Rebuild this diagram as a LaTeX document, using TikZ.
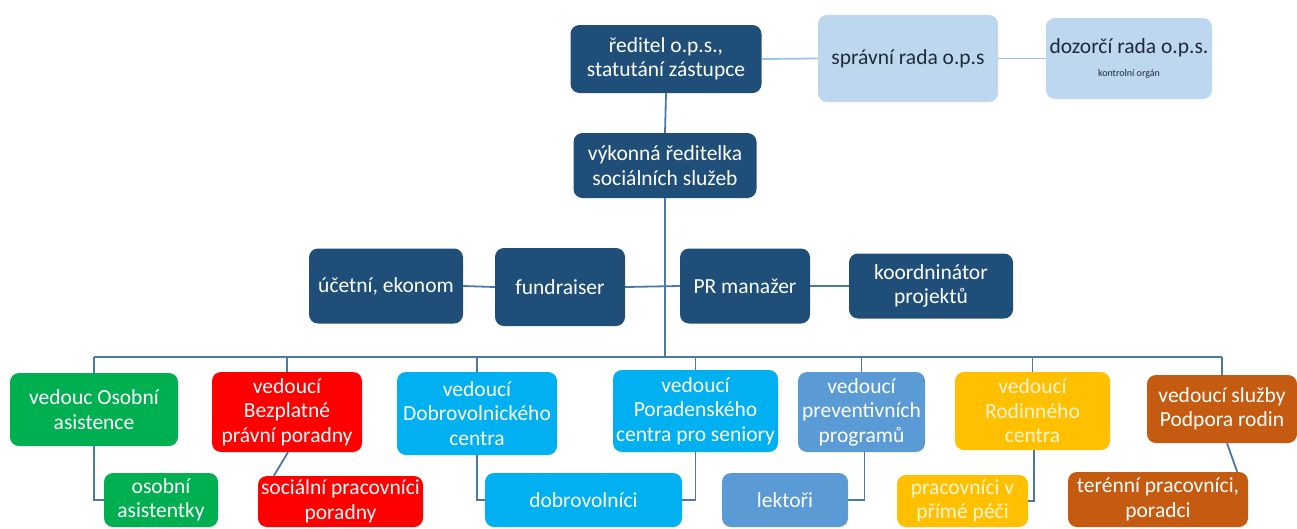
\documentclass[tikz,border=0pt]{standalone}
\usepackage{fontspec}
\setmainfont{Carlito}
\definecolor{navy}{HTML}{1F4E79}
\definecolor{pale}{HTML}{BDD7EE}
\definecolor{paletext}{HTML}{1F2A38}
\definecolor{ogreen}{HTML}{00B050}
\definecolor{ored}{HTML}{FF0000}
\definecolor{ocyan}{HTML}{00B0F0}
\definecolor{oblue}{HTML}{5B9BD5}
\definecolor{oyellow}{HTML}{FFC000}
\definecolor{yelltext}{HTML}{FFF5D6}
\definecolor{obrown}{HTML}{C55A11}
\definecolor{conn}{HTML}{4A78A8}
\definecolor{connlight}{HTML}{9DC3E6}
\begin{document}
\begin{tikzpicture}[x=1pt,y=-1pt,
  box/.style={rounded corners=9pt, align=center, inner sep=1pt, text=white,
    font=\fontsize{21.5}{24.5}\selectfont},
  navybox/.style={box, fill=navy},
  palebox/.style={box, fill=pale, text=paletext},
  conline/.style={draw=conn, line width=1.8pt},
  lightline/.style={draw=connlight, line width=1.8pt}]
\useasboundingbox (0,0) rectangle (1297,528);
% top row
\node[navybox, minimum width=191pt, minimum height=68pt] (red) at (666,59) {ředitel o.p.s.,\\statutání zástupce};
\node[palebox, minimum width=180pt, minimum height=87pt] (sprav) at (908,58.5) {správní rada o.p.s};
\node[palebox, minimum width=166pt, minimum height=81pt] (dozor) at (1129,58.5) {dozorčí rada o.p.s.\\[-1pt]{\fontsize{10}{12}\selectfont kontrolní orgán}};
\node[navybox, minimum width=183pt, minimum height=65pt] (vyk) at (665,165.5) {výkonná ředitelka\\sociálních služeb};
% middle row
\node[navybox, minimum width=154pt, minimum height=75pt] (ucet) at (386,286) {účetní, ekonom};
\node[navybox, minimum width=130pt, minimum height=78pt] (fund) at (560,287) {fundraiser};
\node[navybox, minimum width=130pt, minimum height=75pt] (pr) at (745,286) {PR manažer};
\node[navybox, minimum width=164pt, minimum height=65pt] (koord) at (931,286) {koordninátor\\projektů};
% leaders
\node[box, fill=ogreen, minimum width=168pt, minimum height=73pt] (b1) at (94,409.5) {vedouc Osobní\\asistence};
\node[box, fill=ored, minimum width=150pt, minimum height=80pt] (b2) at (287,412) {vedoucí\\Bezplatné\\právní poradny};
\node[box, fill=ocyan, minimum width=160pt, minimum height=83pt] (b3) at (477,413.5) {vedoucí\\Dobrovolnického\\centra};
\node[box, fill=ocyan, minimum width=165pt, minimum height=82pt] (b4) at (695.5,411) {vedoucí\\Poradenského\\centra pro seniory};
\node[box, fill=oblue, minimum width=127pt, minimum height=80pt] (b5) at (861.5,412) {vedoucí\\preventivních\\programů};
\node[box, fill=oyellow, text=yelltext, minimum width=155pt, minimum height=78pt] (b6) at (1032.5,411) {vedoucí\\Rodinného\\centra};
\node[box, fill=obrown, minimum width=150pt, minimum height=68pt] (b7) at (1222,409) {vedoucí služby\\Podpora rodin};
% staff
\node[box, fill=ogreen, minimum width=114pt, minimum height=54pt] (c1) at (161,500) {osobní\\asistentky};
\node[box, fill=ored, minimum width=165pt, minimum height=51pt] (c2) at (340.5,501.5) {sociální pracovníci\\poradny};
\node[box, fill=ocyan, minimum width=197pt, minimum height=54pt] (c3) at (583.5,500) {dobrovolníci};
\node[box, fill=oblue, minimum width=126pt, minimum height=54pt] (c4) at (785,500) {lektoři};
\node[box, fill=oyellow, text=yelltext, minimum width=131pt, minimum height=52pt] (c5) at (962.5,501) {pracovníci v\\přímé péči};
\node[box, fill=obrown, minimum width=180pt, minimum height=55pt] (c6) at (1158,499.5) {terénní pracovníci,\\poradci};
% connectors top
\draw[lightline] (red.east) -- (sprav.west);
\draw[lightline] (sprav.east) -- (dozor.west);
\draw[conline] (red.south) -- (vyk.north);
\coordinate (bus) at (665,357);
\draw[conline] (vyk.south) -- (bus);
\draw[conline] (ucet.east) -- (fund.west);
\draw[conline] (fund.east) -- (pr.west);
\draw[conline] (pr.east) -- (koord.west);
% bus
\draw[conline] (b1.north |- bus) -- (b7.north |- bus);
\foreach \b in {b1,b2,b3,b4,b5,b6,b7}{\draw[conline] (\b.north |- bus) -- (\b.north);}
% staff connectors
\draw[conline] (b1.south) |- (c1.west);
\draw[conline] ([xshift=1pt]b2.south) -- ([xshift=16pt]c2.north west);
\draw[conline] (b3.south) |- (c3.west);
\draw[conline] (b4.south) |- (c3.east);
\draw[conline] ([xshift=3pt]b5.south) |- (c4.east);
\draw[conline] ([xshift=1.5pt]b6.south) |- (c5.east);
\draw[conline] ([xshift=5pt]b7.south) -- ([xshift=-11pt]c6.north east);
\end{tikzpicture}
\end{document}
